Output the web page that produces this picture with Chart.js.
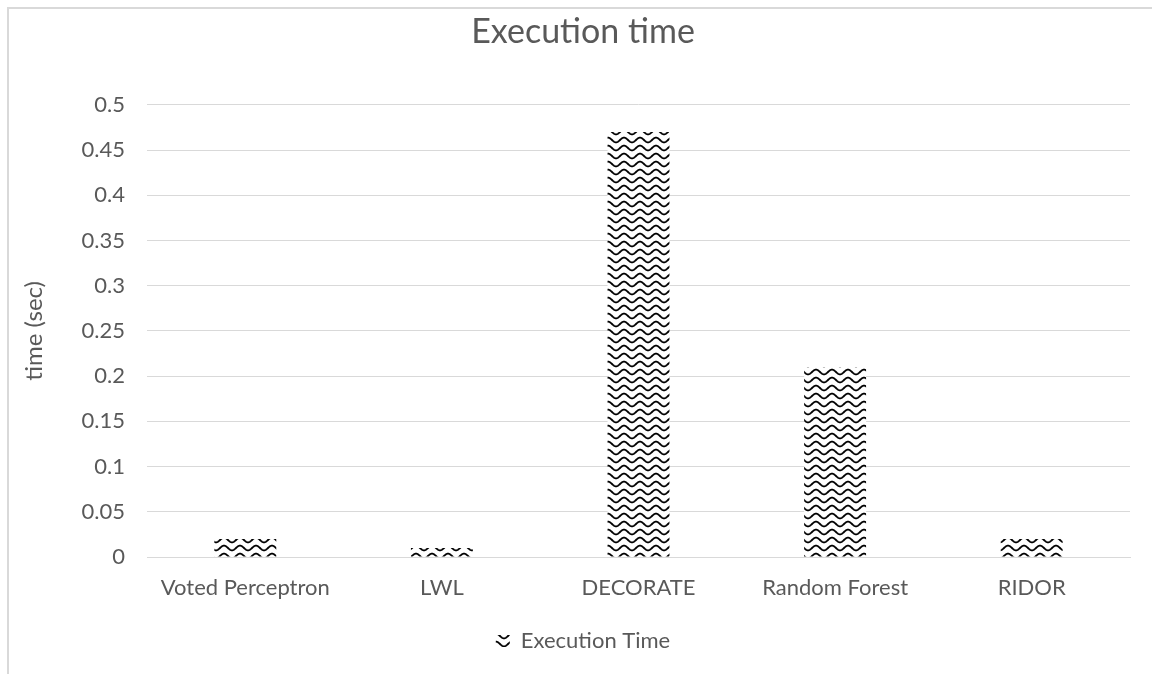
<!DOCTYPE html>
<html>
<head>
<meta charset="utf-8">
<script src="https://cdn.jsdelivr.net/npm/chart.js@4/dist/chart.umd.min.js"></script>
<style>
  html, body { margin: 0; padding: 0; background: #ffffff; }
  body { width: 1152px; height: 674px; overflow: hidden; position: relative; }
  #frame {
    position: absolute; left: 7px; top: 7px; width: 1200px; height: 700px;
    border-top: 2px solid #d9d9d9; border-left: 2px solid #d9d9d9;
  }
  #wrap { position: absolute; left: 0; top: 0; width: 1166px; height: 674px; }
</style>
</head>
<body>
<div id="frame"></div>
<div id="wrap"><canvas id="chart" width="1166" height="674"></canvas></div>
<script>
// Execution time per classifier (seconds)
const categories = ["Voted Perceptron", "LWL", "DECORATE", "Random Forest", "RIDOR"];
const executionTime = [0.02, 0.01, 0.47, 0.21, 0.02];
const seriesName = "Execution Time";
const chartTitle = "Execution time";
const yAxisTitle = "time (sec)";

const FONT = "Lato, 'Open Sans', sans-serif";
const TEXT = "#595959";
const GRID = "#d9d9d9";

// Wave hatch used as the bar fill
function wavePattern(ctx) {
  const tile = document.createElement("canvas");
  tile.width = 16; tile.height = 8;
  const t = tile.getContext("2d");
  t.fillStyle = "#ffffff";
  t.fillRect(0, 0, 16, 8);
  t.strokeStyle = "#000000";
  t.lineWidth = 1.8;
  t.beginPath();
  for (let x = -1; x <= 17; x += 0.5) {
    const y = 4 + 2.4 * Math.cos((x - 8) / 16 * Math.PI * 2);
    if (x === -1) t.moveTo(x, y); else t.lineTo(x, y);
  }
  t.stroke();
  return ctx.createPattern(tile, "repeat");
}

// Trim trailing zeros from tick values: 0.50 -> 0.5
const tickText = (v) => String(Number(Number(v).toFixed(2)));

const canvas = document.getElementById("chart");
const ctx = canvas.getContext("2d");
const fill = wavePattern(ctx);

new Chart(ctx, {
  type: "bar",
  data: {
    labels: categories,
    datasets: [{
      label: seriesName,
      data: executionTime,
      backgroundColor: fill,
      borderWidth: 0,
      barPercentage: 0.315,
      categoryPercentage: 1.0
    }]
  },
  options: {
    responsive: false,
    animation: false,
    layout: { padding: { left: 0, right: 0, top: 0, bottom: 12 } },
    plugins: {
      title: {
        display: true,
        text: chartTitle,
        color: TEXT,
        font: { family: FONT, size: 34, weight: "normal" },
        padding: { top: 12, bottom: 52 }
      },
      legend: {
        display: true,
        position: "bottom",
        labels: {
          color: TEXT,
          font: { family: FONT, size: 22 },
          boxWidth: 14,
          boxHeight: 12,
          padding: 10
        }
      },
      tooltip: { enabled: false }
    },
    scales: {
      x: {
        grid: { display: false, drawTicks: false },
        border: { display: true, color: GRID, width: 1 },
        ticks: {
          color: TEXT,
          font: { family: FONT, size: 22 },
          padding: 18,
          maxRotation: 0,
          autoSkip: false
        },
        afterFit: (s) => { s.height = 63; }
      },
      y: {
        min: 0,
        max: 0.5,
        grid: { color: GRID, lineWidth: 1, drawTicks: false },
        border: { display: false },
        ticks: {
          stepSize: 0.05,
          color: TEXT,
          font: { family: FONT, size: 22 },
          padding: 22,
          callback: tickText
        },
        title: {
          display: true,
          text: yAxisTitle,
          color: TEXT,
          font: { family: FONT, size: 24 },
          padding: { top: 20, bottom: 0 }
        },
        afterFit: (s) => { s.width = 147; }
      },
      // empty right-hand margin so the plot ends short of the chart's right edge
      margin: {
        type: "linear",
        position: "right",
        display: true,
        grid: { display: false, drawTicks: false },
        border: { display: false },
        ticks: { display: false },
        afterFit: (s) => { s.width = 36; }
      }
    }
  }
});
</script>
</body>
</html>
